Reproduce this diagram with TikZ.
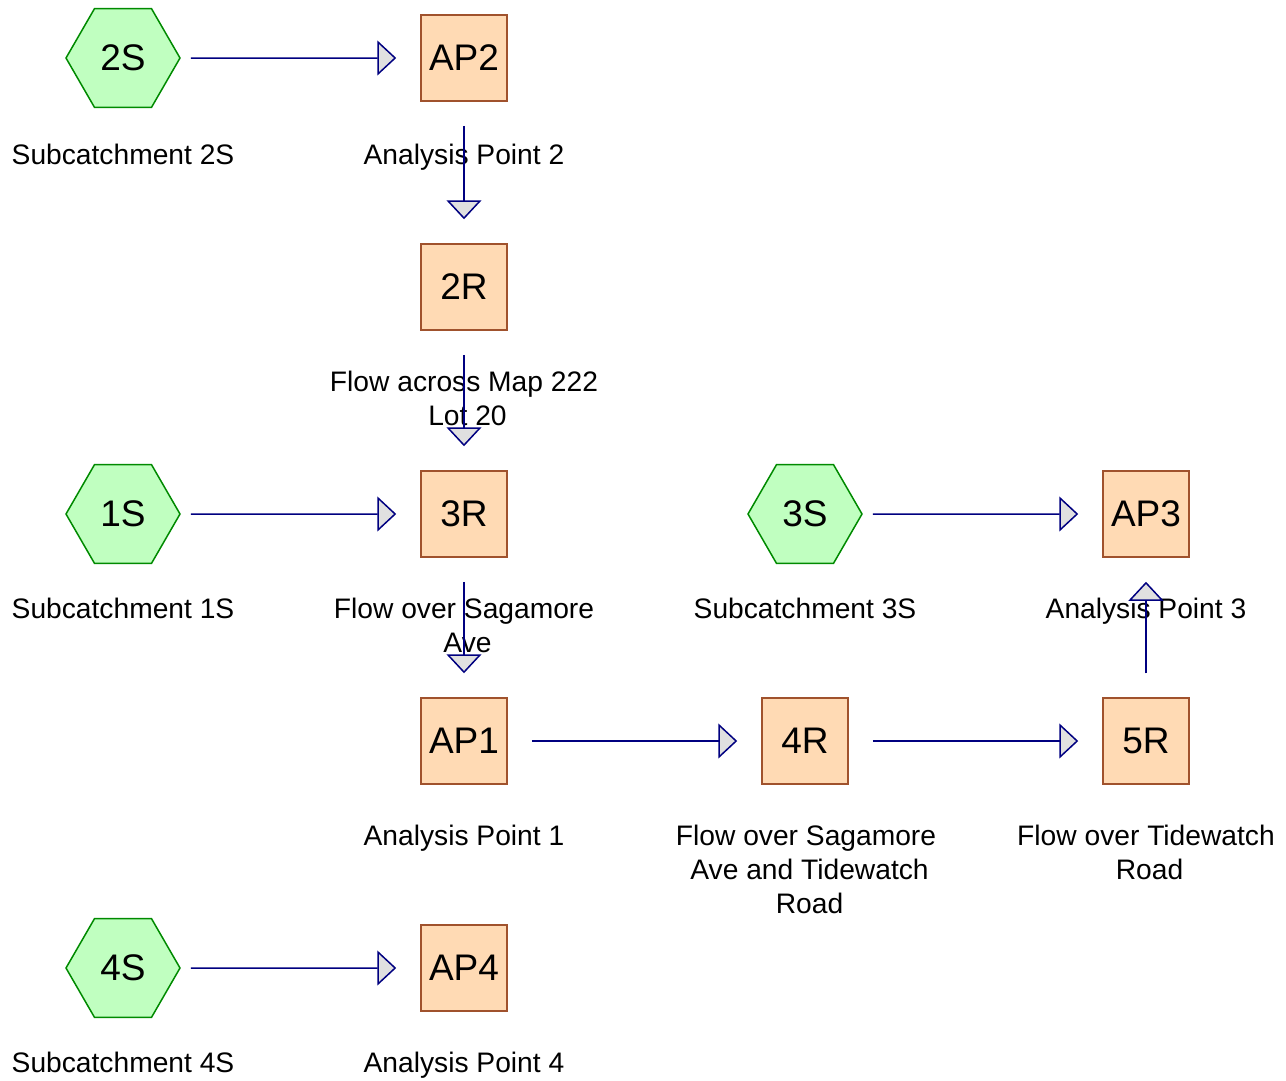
\documentclass[tikz,border=0pt]{standalone}
\usepackage{fontspec}
\setmainfont{Liberation Sans}
\usetikzlibrary{shapes.geometric,arrows.meta}

\definecolor{hexfill}{HTML}{C0FFC0}
\definecolor{hexline}{HTML}{008A00}
\definecolor{boxfill}{HTML}{FFDAB4}
\definecolor{boxline}{HTML}{A0522D}
\definecolor{flowline}{HTML}{000080}
\definecolor{tipfill}{HTML}{E0E0E0}

% leading gap before a wrapped line
\newcommand{\lead}{\hspace*{7pt}}

\tikzset{
	subcat/.style={regular polygon, regular polygon sides=6, minimum size=114pt,
		inner sep=0pt, draw=hexline, fill=hexfill, line width=1.5pt,
		font=\fontsize{37}{44}\selectfont},
	reach/.style={rectangle, minimum size=86pt, inner sep=0pt, draw=boxline,
		fill=boxfill, line width=1.5pt, font=\fontsize{37}{44}\selectfont},
	caption/.style={anchor=north, inner sep=0pt, align=center,
		font=\fontsize{28.2}{34}\selectfont},
	flow/.style={draw=flowline, line width=1.5pt,
		-{Triangle[length=19pt,width=35pt,line width=1.5pt,fill=tipfill]},
		shorten >=24pt},
	fromhex/.style={shorten <=10pt},
	frombox/.style={shorten <=24pt}
}

\begin{document}
\begin{tikzpicture}[x=1pt,y=-1pt]
	\useasboundingbox (0,0) rectangle (1286,1080);

	% Subcatchments
	\node[subcat] (s2) at (123,58) {2S};
	\node[subcat] (s1) at (123,514) {1S};
	\node[subcat] (s3) at (805,514) {3S};
	\node[subcat] (s4) at (123,968) {4S};

	% Reaches and analysis points
	\node[reach] (ap2) at (464,58) {AP2};
	\node[reach] (r2) at (464,287) {2R};
	\node[reach] (r3) at (464,514) {3R};
	\node[reach] (ap3) at (1146,514) {AP3};
	\node[reach] (ap1) at (464,741) {AP1};
	\node[reach] (r4) at (805,741) {4R};
	\node[reach] (r5) at (1146,741) {5R};
	\node[reach] (ap4) at (464,968) {AP4};

	% Captions
	\node[caption] (s2t) at (123,144) {Subcatchment 2S};
	\node[caption] (ap2t) at (464,144) {Analysis Point 2};
	\node[caption] (r2t) at (464,371) {Flow across Map 222\\\lead Lot 20};
	\node[caption] (s1t) at (123,598) {Subcatchment 1S};
	\node[caption] (r3t) at (464,598) {Flow over Sagamore\\\lead Ave};
	\node[caption] (s3t) at (805,598) {Subcatchment 3S};
	\node[caption] (ap3t) at (1146,598) {Analysis Point 3};
	\node[caption] (ap1t) at (464,825) {Analysis Point 1};
	\node[caption] (r4t) at (806,825) {Flow over Sagamore\\\lead Ave and Tidewatch\\\lead Road};
	\node[caption] (r5t) at (1146,825) {Flow over Tidewatch\\\lead Road};
	\node[caption] (s4t) at (123,1052) {Subcatchment 4S};
	\node[caption] (ap4t) at (464,1052) {Analysis Point 4};

	% Flow links
	\draw[flow,fromhex] (s2) -- (ap2);
	\draw[flow,frombox] (ap2) -- (r2);
	\draw[flow,frombox] (r2) -- (r3);
	\draw[flow,fromhex] (s1) -- (r3);
	\draw[flow,frombox] (r3) -- (ap1);
	\draw[flow,frombox] (ap1) -- (r4);
	\draw[flow,frombox] (r4) -- (r5);
	\draw[flow,frombox] (r5) -- (ap3);
	\draw[flow,fromhex] (s3) -- (ap3);
	\draw[flow,fromhex] (s4) -- (ap4);
\end{tikzpicture}
\end{document}
